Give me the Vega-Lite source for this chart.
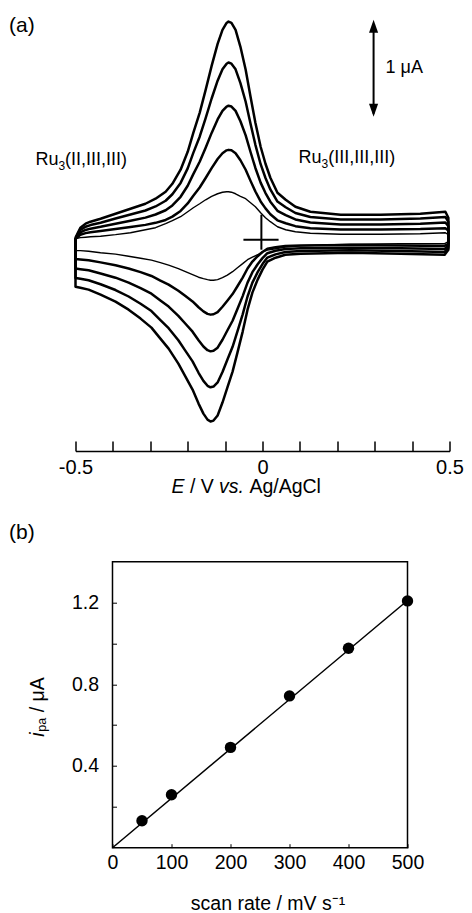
{
"$schema":"https://vega.github.io/schema/vega-lite/v6.json",
"padding":{"left":8.5,"top":10,"right":0,"bottom":0},
"spacing":24.7,
"config":{"font":"Liberation Sans","view":{"stroke":null},"axis":{"labelColor":"black","titleColor":"black","tickColor":"black","domainColor":"black","grid":false,"labelFont":"Liberation Sans","titleFont":"Liberation Sans","titleFontWeight":"normal"}},
"datasets":{"cv":[
{"s":100,"E":-0.5,"I":0.010},{"s":100,"E":-0.495,"I":0.015},{"s":100,"E":-0.487,"I":0.021},{"s":100,"E":-0.473,"I":0.026},{"s":100,"E":-0.46,"I":0.031},{"s":100,"E":-0.433,"I":0.036},{"s":100,"E":-0.393,"I":0.052},{"s":100,"E":-0.353,"I":0.072},{"s":100,"E":-0.313,"I":0.103},{"s":100,"E":-0.286,"I":0.124},{"s":100,"E":-0.259,"I":0.165},{"s":100,"E":-0.241,"I":0.196},{"s":100,"E":-0.219,"I":0.237},{"s":100,"E":-0.2,"I":0.289},{"s":100,"E":-0.185,"I":0.330},{"s":100,"E":-0.168,"I":0.371},{"s":100,"E":-0.152,"I":0.412},{"s":100,"E":-0.136,"I":0.448},{"s":100,"E":-0.12,"I":0.474},{"s":100,"E":-0.107,"I":0.490},{"s":100,"E":-0.096,"I":0.495},{"s":100,"E":-0.091,"I":0.495},{"s":100,"E":-0.083,"I":0.490},{"s":100,"E":-0.072,"I":0.474},{"s":100,"E":-0.059,"I":0.448},{"s":100,"E":-0.045,"I":0.423},{"s":100,"E":-0.032,"I":0.381},{"s":100,"E":-0.019,"I":0.340},{"s":100,"E":-0.005,"I":0.278},{"s":100,"E":0.008,"I":0.227},{"s":100,"E":0.021,"I":0.186},{"s":100,"E":0.04,"I":0.134},{"s":100,"E":0.062,"I":0.103},{"s":100,"E":0.088,"I":0.082},{"s":100,"E":0.128,"I":0.067},{"s":100,"E":0.209,"I":0.057},{"s":100,"E":0.316,"I":0.057},{"s":100,"E":0.422,"I":0.062},{"s":100,"E":0.489,"I":0.072},{"s":100,"E":0.497,"I":0.052},
{"s":100,"E":0.497,"I":-0.021},{"s":100,"E":0.487,"I":-0.041},{"s":100,"E":0.369,"I":-0.041},{"s":100,"E":0.235,"I":-0.046},{"s":100,"E":0.102,"I":-0.062},{"s":100,"E":0.061,"I":-0.077},{"s":100,"E":0.035,"I":-0.093},{"s":100,"E":0.013,"I":-0.108},{"s":100,"E":0,"I":-0.124},{"s":100,"E":-0.013,"I":-0.155},{"s":100,"E":-0.027,"I":-0.180},{"s":100,"E":-0.04,"I":-0.206},{"s":100,"E":-0.053,"I":-0.247},{"s":100,"E":-0.067,"I":-0.289},{"s":100,"E":-0.08,"I":-0.330},{"s":100,"E":-0.094,"I":-0.366},{"s":100,"E":-0.107,"I":-0.392},{"s":100,"E":-0.12,"I":-0.412},{"s":100,"E":-0.131,"I":-0.418},{"s":100,"E":-0.139,"I":-0.418},{"s":100,"E":-0.147,"I":-0.412},{"s":100,"E":-0.158,"I":-0.402},{"s":100,"E":-0.171,"I":-0.387},{"s":100,"E":-0.187,"I":-0.361},{"s":100,"E":-0.206,"I":-0.330},{"s":100,"E":-0.225,"I":-0.299},{"s":100,"E":-0.251,"I":-0.263},{"s":100,"E":-0.273,"I":-0.237},{"s":100,"E":-0.297,"I":-0.211},{"s":100,"E":-0.326,"I":-0.191},{"s":100,"E":-0.358,"I":-0.170},{"s":100,"E":-0.393,"I":-0.149},{"s":100,"E":-0.433,"I":-0.134},{"s":100,"E":-0.465,"I":-0.119},{"s":100,"E":-0.487,"I":-0.113},{"s":100,"E":-0.5,"I":-0.113},{"s":100,"E":-0.5,"I":0.010},
{"s":200,"E":-0.5,"I":0.009},{"s":200,"E":-0.495,"I":0.026},{"s":200,"E":-0.487,"I":0.051},{"s":200,"E":-0.473,"I":0.068},{"s":200,"E":-0.46,"I":0.077},{"s":200,"E":-0.433,"I":0.089},{"s":200,"E":-0.393,"I":0.110},{"s":200,"E":-0.353,"I":0.132},{"s":200,"E":-0.313,"I":0.153},{"s":200,"E":-0.286,"I":0.174},{"s":200,"E":-0.259,"I":0.204},{"s":200,"E":-0.241,"I":0.238},{"s":200,"E":-0.219,"I":0.297},{"s":200,"E":-0.2,"I":0.374},{"s":200,"E":-0.185,"I":0.454},{"s":200,"E":-0.168,"I":0.539},{"s":200,"E":-0.152,"I":0.637},{"s":200,"E":-0.136,"I":0.739},{"s":200,"E":-0.12,"I":0.833},{"s":200,"E":-0.107,"I":0.892},{"s":200,"E":-0.096,"I":0.922},{"s":200,"E":-0.091,"I":0.927},{"s":200,"E":-0.083,"I":0.922},{"s":200,"E":-0.072,"I":0.892},{"s":200,"E":-0.059,"I":0.820},{"s":200,"E":-0.045,"I":0.722},{"s":200,"E":-0.032,"I":0.607},{"s":200,"E":-0.019,"I":0.497},{"s":200,"E":-0.005,"I":0.395},{"s":200,"E":0.008,"I":0.323},{"s":200,"E":0.021,"I":0.263},{"s":200,"E":0.04,"I":0.200},{"s":200,"E":0.062,"I":0.170},{"s":200,"E":0.088,"I":0.140},{"s":200,"E":0.128,"I":0.119},{"s":200,"E":0.209,"I":0.106},{"s":200,"E":0.316,"I":0.106},{"s":200,"E":0.422,"I":0.110},{"s":200,"E":0.489,"I":0.119},{"s":200,"E":0.497,"I":0.094},
{"s":200,"E":0.497,"I":-0.042},{"s":200,"E":0.487,"I":-0.064},{"s":200,"E":0.369,"I":-0.059},{"s":200,"E":0.235,"I":-0.055},{"s":200,"E":0.102,"I":-0.059},{"s":200,"E":0.061,"I":-0.064},{"s":200,"E":0.035,"I":-0.077},{"s":200,"E":0.013,"I":-0.094},{"s":200,"E":0,"I":-0.127},{"s":200,"E":-0.013,"I":-0.170},{"s":200,"E":-0.027,"I":-0.225},{"s":200,"E":-0.04,"I":-0.297},{"s":200,"E":-0.053,"I":-0.391},{"s":200,"E":-0.067,"I":-0.480},{"s":200,"E":-0.08,"I":-0.561},{"s":200,"E":-0.094,"I":-0.629},{"s":200,"E":-0.107,"I":-0.692},{"s":200,"E":-0.12,"I":-0.747},{"s":200,"E":-0.131,"I":-0.769},{"s":200,"E":-0.139,"I":-0.773},{"s":200,"E":-0.147,"I":-0.765},{"s":200,"E":-0.158,"I":-0.739},{"s":200,"E":-0.171,"I":-0.697},{"s":200,"E":-0.187,"I":-0.637},{"s":200,"E":-0.206,"I":-0.582},{"s":200,"E":-0.225,"I":-0.527},{"s":200,"E":-0.251,"I":-0.463},{"s":200,"E":-0.273,"I":-0.421},{"s":200,"E":-0.297,"I":-0.374},{"s":200,"E":-0.326,"I":-0.335},{"s":200,"E":-0.358,"I":-0.297},{"s":200,"E":-0.393,"I":-0.263},{"s":200,"E":-0.433,"I":-0.234},{"s":200,"E":-0.465,"I":-0.212},{"s":200,"E":-0.487,"I":-0.204},{"s":200,"E":-0.5,"I":-0.200},{"s":200,"E":-0.5,"I":0.009},
{"s":300,"E":-0.5,"I":0.013},{"s":300,"E":-0.495,"I":0.038},{"s":300,"E":-0.487,"I":0.076},{"s":300,"E":-0.473,"I":0.101},{"s":300,"E":-0.46,"I":0.114},{"s":300,"E":-0.433,"I":0.133},{"s":300,"E":-0.393,"I":0.165},{"s":300,"E":-0.353,"I":0.196},{"s":300,"E":-0.313,"I":0.228},{"s":300,"E":-0.286,"I":0.260},{"s":300,"E":-0.259,"I":0.304},{"s":300,"E":-0.241,"I":0.354},{"s":300,"E":-0.219,"I":0.443},{"s":300,"E":-0.2,"I":0.557},{"s":300,"E":-0.185,"I":0.677},{"s":300,"E":-0.168,"I":0.804},{"s":300,"E":-0.152,"I":0.949},{"s":300,"E":-0.136,"I":1.102},{"s":300,"E":-0.12,"I":1.241},{"s":300,"E":-0.107,"I":1.329},{"s":300,"E":-0.096,"I":1.374},{"s":300,"E":-0.091,"I":1.382},{"s":300,"E":-0.083,"I":1.374},{"s":300,"E":-0.072,"I":1.329},{"s":300,"E":-0.059,"I":1.222},{"s":300,"E":-0.045,"I":1.076},{"s":300,"E":-0.032,"I":0.905},{"s":300,"E":-0.019,"I":0.740},{"s":300,"E":-0.005,"I":0.589},{"s":300,"E":0.008,"I":0.481},{"s":300,"E":0.021,"I":0.392},{"s":300,"E":0.04,"I":0.298},{"s":300,"E":0.062,"I":0.253},{"s":300,"E":0.088,"I":0.209},{"s":300,"E":0.128,"I":0.177},{"s":300,"E":0.209,"I":0.158},{"s":300,"E":0.316,"I":0.158},{"s":300,"E":0.422,"I":0.165},{"s":300,"E":0.489,"I":0.177},{"s":300,"E":0.497,"I":0.139},
{"s":300,"E":0.497,"I":-0.063},{"s":300,"E":0.487,"I":-0.095},{"s":300,"E":0.369,"I":-0.088},{"s":300,"E":0.235,"I":-0.082},{"s":300,"E":0.102,"I":-0.088},{"s":300,"E":0.061,"I":-0.095},{"s":300,"E":0.035,"I":-0.114},{"s":300,"E":0.013,"I":-0.139},{"s":300,"E":0,"I":-0.190},{"s":300,"E":-0.013,"I":-0.253},{"s":300,"E":-0.027,"I":-0.335},{"s":300,"E":-0.04,"I":-0.443},{"s":300,"E":-0.053,"I":-0.582},{"s":300,"E":-0.067,"I":-0.715},{"s":300,"E":-0.08,"I":-0.836},{"s":300,"E":-0.094,"I":-0.937},{"s":300,"E":-0.107,"I":-1.032},{"s":300,"E":-0.12,"I":-1.114},{"s":300,"E":-0.131,"I":-1.146},{"s":300,"E":-0.139,"I":-1.152},{"s":300,"E":-0.147,"I":-1.140},{"s":300,"E":-0.158,"I":-1.102},{"s":300,"E":-0.171,"I":-1.038},{"s":300,"E":-0.187,"I":-0.949},{"s":300,"E":-0.206,"I":-0.867},{"s":300,"E":-0.225,"I":-0.785},{"s":300,"E":-0.251,"I":-0.690},{"s":300,"E":-0.273,"I":-0.627},{"s":300,"E":-0.297,"I":-0.557},{"s":300,"E":-0.326,"I":-0.500},{"s":300,"E":-0.358,"I":-0.443},{"s":300,"E":-0.393,"I":-0.392},{"s":300,"E":-0.433,"I":-0.348},{"s":300,"E":-0.465,"I":-0.316},{"s":300,"E":-0.487,"I":-0.304},{"s":300,"E":-0.5,"I":-0.298},{"s":300,"E":-0.5,"I":0.013},
{"s":400,"E":-0.5,"I":0.017},{"s":400,"E":-0.495,"I":0.050},{"s":400,"E":-0.487,"I":0.101},{"s":400,"E":-0.473,"I":0.134},{"s":400,"E":-0.46,"I":0.151},{"s":400,"E":-0.433,"I":0.175},{"s":400,"E":-0.393,"I":0.218},{"s":400,"E":-0.353,"I":0.260},{"s":400,"E":-0.313,"I":0.301},{"s":400,"E":-0.286,"I":0.343},{"s":400,"E":-0.259,"I":0.402},{"s":400,"E":-0.241,"I":0.469},{"s":400,"E":-0.219,"I":0.586},{"s":400,"E":-0.2,"I":0.736},{"s":400,"E":-0.185,"I":0.896},{"s":400,"E":-0.168,"I":1.063},{"s":400,"E":-0.152,"I":1.255},{"s":400,"E":-0.136,"I":1.457},{"s":400,"E":-0.12,"I":1.641},{"s":400,"E":-0.107,"I":1.758},{"s":400,"E":-0.096,"I":1.816},{"s":400,"E":-0.091,"I":1.828},{"s":400,"E":-0.083,"I":1.816},{"s":400,"E":-0.072,"I":1.758},{"s":400,"E":-0.059,"I":1.616},{"s":400,"E":-0.045,"I":1.423},{"s":400,"E":-0.032,"I":1.197},{"s":400,"E":-0.019,"I":0.979},{"s":400,"E":-0.005,"I":0.779},{"s":400,"E":0.008,"I":0.637},{"s":400,"E":0.021,"I":0.519},{"s":400,"E":0.04,"I":0.394},{"s":400,"E":0.062,"I":0.335},{"s":400,"E":0.088,"I":0.276},{"s":400,"E":0.128,"I":0.235},{"s":400,"E":0.209,"I":0.209},{"s":400,"E":0.316,"I":0.209},{"s":400,"E":0.422,"I":0.218},{"s":400,"E":0.489,"I":0.235},{"s":400,"E":0.497,"I":0.184},
{"s":400,"E":0.497,"I":-0.084},{"s":400,"E":0.487,"I":-0.126},{"s":400,"E":0.369,"I":-0.117},{"s":400,"E":0.235,"I":-0.109},{"s":400,"E":0.102,"I":-0.117},{"s":400,"E":0.061,"I":-0.126},{"s":400,"E":0.035,"I":-0.151},{"s":400,"E":0.013,"I":-0.184},{"s":400,"E":0,"I":-0.251},{"s":400,"E":-0.013,"I":-0.335},{"s":400,"E":-0.027,"I":-0.443},{"s":400,"E":-0.04,"I":-0.586},{"s":400,"E":-0.053,"I":-0.770},{"s":400,"E":-0.067,"I":-0.946},{"s":400,"E":-0.08,"I":-1.105},{"s":400,"E":-0.094,"I":-1.239},{"s":400,"E":-0.107,"I":-1.364},{"s":400,"E":-0.12,"I":-1.473},{"s":400,"E":-0.131,"I":-1.515},{"s":400,"E":-0.139,"I":-1.523},{"s":400,"E":-0.147,"I":-1.507},{"s":400,"E":-0.158,"I":-1.457},{"s":400,"E":-0.171,"I":-1.373},{"s":400,"E":-0.187,"I":-1.255},{"s":400,"E":-0.206,"I":-1.147},{"s":400,"E":-0.225,"I":-1.038},{"s":400,"E":-0.251,"I":-0.913},{"s":400,"E":-0.273,"I":-0.829},{"s":400,"E":-0.297,"I":-0.736},{"s":400,"E":-0.326,"I":-0.661},{"s":400,"E":-0.358,"I":-0.586},{"s":400,"E":-0.393,"I":-0.519},{"s":400,"E":-0.433,"I":-0.460},{"s":400,"E":-0.465,"I":-0.418},{"s":400,"E":-0.487,"I":-0.402},{"s":400,"E":-0.5,"I":-0.394},{"s":400,"E":-0.5,"I":0.017},
{"s":500,"E":-0.5,"I":0.021},{"s":500,"E":-0.495,"I":0.062},{"s":500,"E":-0.487,"I":0.124},{"s":500,"E":-0.473,"I":0.165},{"s":500,"E":-0.46,"I":0.186},{"s":500,"E":-0.433,"I":0.216},{"s":500,"E":-0.393,"I":0.268},{"s":500,"E":-0.353,"I":0.320},{"s":500,"E":-0.313,"I":0.371},{"s":500,"E":-0.286,"I":0.423},{"s":500,"E":-0.259,"I":0.495},{"s":500,"E":-0.241,"I":0.577},{"s":500,"E":-0.219,"I":0.722},{"s":500,"E":-0.2,"I":0.907},{"s":500,"E":-0.185,"I":1.103},{"s":500,"E":-0.168,"I":1.309},{"s":500,"E":-0.152,"I":1.546},{"s":500,"E":-0.136,"I":1.794},{"s":500,"E":-0.12,"I":2.021},{"s":500,"E":-0.107,"I":2.165},{"s":500,"E":-0.096,"I":2.237},{"s":500,"E":-0.091,"I":2.251},{"s":500,"E":-0.083,"I":2.237},{"s":500,"E":-0.072,"I":2.165},{"s":500,"E":-0.059,"I":1.990},{"s":500,"E":-0.045,"I":1.753},{"s":500,"E":-0.032,"I":1.474},{"s":500,"E":-0.019,"I":1.206},{"s":500,"E":-0.005,"I":0.959},{"s":500,"E":0.008,"I":0.784},{"s":500,"E":0.021,"I":0.639},{"s":500,"E":0.04,"I":0.485},{"s":500,"E":0.062,"I":0.412},{"s":500,"E":0.088,"I":0.340},{"s":500,"E":0.128,"I":0.289},{"s":500,"E":0.209,"I":0.258},{"s":500,"E":0.316,"I":0.258},{"s":500,"E":0.422,"I":0.268},{"s":500,"E":0.489,"I":0.289},{"s":500,"E":0.497,"I":0.227},
{"s":500,"E":0.497,"I":-0.103},{"s":500,"E":0.487,"I":-0.155},{"s":500,"E":0.369,"I":-0.144},{"s":500,"E":0.235,"I":-0.134},{"s":500,"E":0.102,"I":-0.144},{"s":500,"E":0.061,"I":-0.155},{"s":500,"E":0.035,"I":-0.186},{"s":500,"E":0.013,"I":-0.227},{"s":500,"E":0,"I":-0.309},{"s":500,"E":-0.013,"I":-0.412},{"s":500,"E":-0.027,"I":-0.546},{"s":500,"E":-0.04,"I":-0.722},{"s":500,"E":-0.053,"I":-0.948},{"s":500,"E":-0.067,"I":-1.165},{"s":500,"E":-0.08,"I":-1.361},{"s":500,"E":-0.094,"I":-1.526},{"s":500,"E":-0.107,"I":-1.680},{"s":500,"E":-0.12,"I":-1.814},{"s":500,"E":-0.131,"I":-1.866},{"s":500,"E":-0.139,"I":-1.876},{"s":500,"E":-0.147,"I":-1.856},{"s":500,"E":-0.158,"I":-1.794},{"s":500,"E":-0.171,"I":-1.691},{"s":500,"E":-0.187,"I":-1.546},{"s":500,"E":-0.206,"I":-1.412},{"s":500,"E":-0.225,"I":-1.278},{"s":500,"E":-0.251,"I":-1.124},{"s":500,"E":-0.273,"I":-1.021},{"s":500,"E":-0.297,"I":-0.907},{"s":500,"E":-0.326,"I":-0.814},{"s":500,"E":-0.358,"I":-0.722},{"s":500,"E":-0.393,"I":-0.639},{"s":500,"E":-0.433,"I":-0.567},{"s":500,"E":-0.465,"I":-0.515},{"s":500,"E":-0.487,"I":-0.495},{"s":500,"E":-0.5,"I":-0.485},{"s":500,"E":-0.5,"I":0.021}
]},
"vconcat":[
{
"width":374,"height":441,
"encoding":{
"x":{"field":"E","type":"quantitative","scale":{"domain":[-0.5,0.5],"nice":false,"zero":false},"axis":{"title":null,"values":[-0.5,-0.4,-0.3,-0.2,-0.1,0,0.1,0.2,0.3,0.4,0.5],"labelExpr":"datum.value == -0.5 ? '-0.5' : datum.value == 0 ? '0' : datum.value == 0.5 ? '0.5' : ''","tickSize":-10,"tickWidth":1.5,"domainWidth":1.5,"labelFontSize":20,"labelPadding":16,"labelFlush":false}},
"y":{"field":"I","type":"quantitative","scale":{"domain":[-2.18,2.37],"nice":false,"zero":false},"axis":null}
},
"layer":[
{"data":{"name":"cv"},"mark":{"type":"line","color":"black","strokeJoin":"round"},"encoding":{"detail":{"field":"s","type":"nominal"},"order":{"value":null},"strokeWidth":{"condition":{"test":"datum.s == 100","value":1.4},"value":2.5}}},
{"data":{"values":[{"E":-0.051,"E2":0.043,"I":0,"I2":0},{"E":-0.003,"E2":-0.003,"I":0.258,"I2":-0.103},{"E":0.297,"E2":0.297,"I":1.3,"I2":2.2}]},"mark":{"type":"rule","color":"black","strokeWidth":2},"encoding":{"x2":{"field":"E2"},"y2":{"field":"I2"}}},
{"data":{"values":[{"E":0.297,"I":2.134,"dir":"up"},{"E":0.297,"I":1.402,"dir":"down"}]},"mark":{"type":"point","filled":true,"color":"black","opacity":1,"strokeWidth":0,"size":676},"encoding":{"shape":{"field":"dir","type":"nominal","scale":{"domain":["up","down"],"range":["M0,-1L0.35,0L-0.35,0Z","M0,1L0.35,0L-0.35,0Z"]},"legend":null}}},
{"data":{"values":[{"E":-0.607,"I":0.773,"t":"Ru"},{"E":-0.528,"I":0.773,"t":"(II,III,III)"},{"E":0.0963,"I":0.79,"t":"Ru"},{"E":0.1757,"I":0.79,"t":"(III,III,III)"},{"E":0.329,"I":1.725,"t":"1 μA"}]},"mark":{"type":"text","align":"left","baseline":"alphabetic","fontSize":18,"color":"black"},"encoding":{"text":{"field":"t"}}},
{"data":{"values":[{"E":-0.5455,"I":0.722,"t":"3"},{"E":0.1578,"I":0.742,"t":"3"}]},"mark":{"type":"text","align":"left","baseline":"alphabetic","fontSize":12,"color":"black"},"encoding":{"text":{"field":"t"}}},
{"data":{"values":[{"E":-0.6778,"I":2.144,"t":"(a)"}]},"mark":{"type":"text","align":"left","baseline":"alphabetic","fontSize":21,"color":"black"},"encoding":{"text":{"field":"t"}}},
{"data":{"values":[{"E":-0.2433,"I":-2.61,"t":"E"},{"E":-0.116,"I":-2.61,"t":"vs."}]},"mark":{"type":"text","align":"left","baseline":"alphabetic","fontSize":19.5,"fontStyle":"italic","color":"black"},"encoding":{"text":{"field":"t"}}},
{"data":{"values":[{"E":-0.1941,"I":-2.61,"t":"/ V"},{"E":-0.035,"I":-2.61,"t":"Ag/AgCl"}]},"mark":{"type":"text","align":"left","baseline":"alphabetic","fontSize":19.5,"color":"black"},"encoding":{"text":{"field":"t"}}}
]
},
{
"width":332,"height":286,
"encoding":{
"x":{"field":"rate","type":"quantitative","scale":{"domain":[-62.7,500],"nice":false,"zero":false},"axis":{"title":"scan rate / mV s⁻¹","values":[0,100,200,300,400,500],"tickSize":-4,"tickWidth":1,"domain":false,"labelFontSize":19.5,"labelPadding":10,"titleFontSize":19.5,"titlePadding":22,"titleX":192,"labelFlush":false}},
"y":{"field":"ipa","type":"quantitative","scale":{"domain":[0,1.4],"nice":false,"zero":false},"axis":{"title":null,"offset":-37,"values":[0.2,0.4,0.6,0.8,1,1.2],"labelExpr":"indexof([0.4,0.8,1.2], datum.value) >= 0 ? format(datum.value, '.1f') : ''","tickSize":-4,"tickWidth":1,"domain":false,"labelFontSize":19.5,"labelPadding":18}}
},
"layer":[
{"data":{"values":[{"rate":0,"ipa":0,"rate2":500,"ipa2":1.4}]},"mark":{"type":"rect","fill":null,"filled":false,"stroke":"black","strokeWidth":1.5},"encoding":{"x2":{"field":"rate2"},"y2":{"field":"ipa2"}}},
{"data":{"values":[{"rate":0,"ipa":0},{"rate":500,"ipa":1.21}]},"mark":{"type":"line","color":"black","strokeWidth":1.5}},
{"data":{"values":[{"rate":50,"ipa":0.132},{"rate":100,"ipa":0.259},{"rate":200,"ipa":0.491},{"rate":300,"ipa":0.743},{"rate":400,"ipa":0.976},{"rate":500,"ipa":1.208}]},"mark":{"type":"circle","color":"black","opacity":1,"size":130}},
{"data":{"values":[{"rate":-175.4,"ipa":1.51,"t":"(b)"}]},"mark":{"type":"text","align":"left","baseline":"alphabetic","fontSize":21,"color":"black"},"encoding":{"text":{"field":"t"}}},
{"data":{"values":[{"rate":-116.9,"ipa":0.543,"t":"i"}]},"mark":{"type":"text","align":"left","baseline":"alphabetic","angle":270,"fontSize":19.5,"fontStyle":"italic","color":"black"},"encoding":{"text":{"field":"t"}}},
{"data":{"values":[{"rate":-111.9,"ipa":0.568,"t":"pa"}]},"mark":{"type":"text","align":"left","baseline":"alphabetic","angle":270,"fontSize":12.5,"color":"black"},"encoding":{"text":{"field":"t"}}},
{"data":{"values":[{"rate":-116.9,"ipa":0.663,"t":"/ μA"}]},"mark":{"type":"text","align":"left","baseline":"alphabetic","angle":270,"fontSize":19.5,"color":"black"},"encoding":{"text":{"field":"t"}}}
]
}
]
}
